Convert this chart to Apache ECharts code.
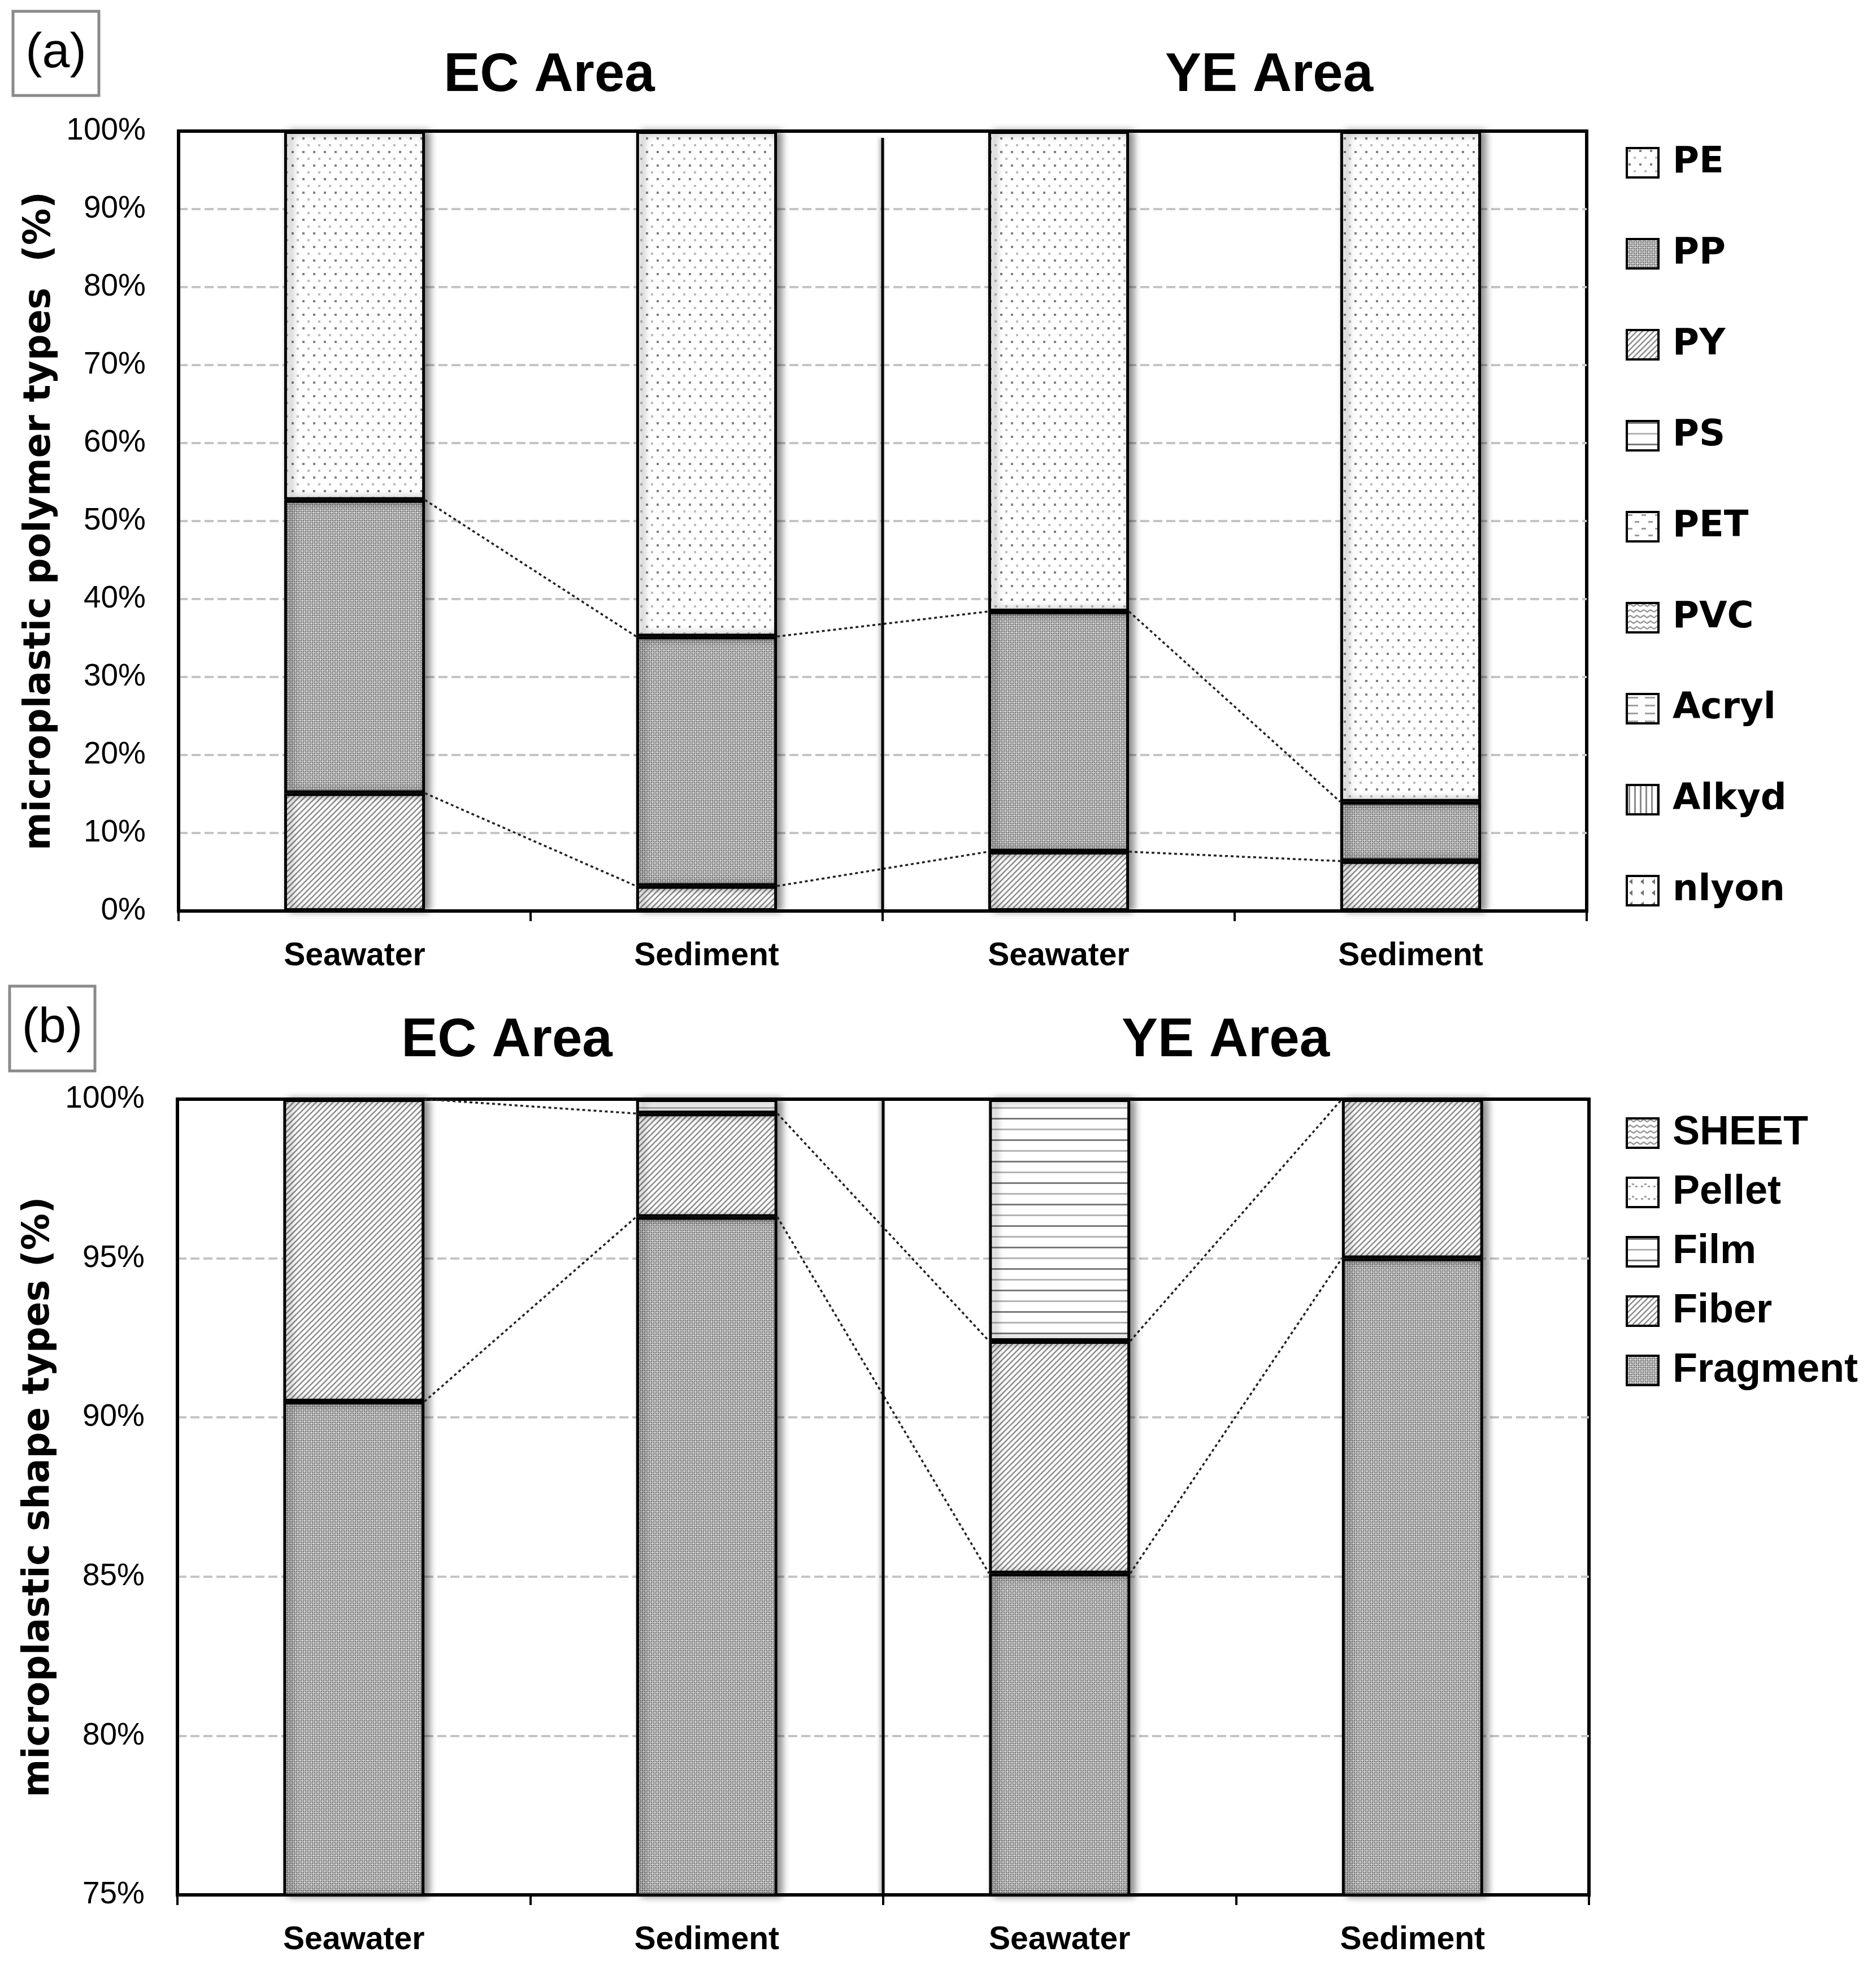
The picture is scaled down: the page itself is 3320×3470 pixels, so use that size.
<!DOCTYPE html>
<html>
<head>
<meta charset="utf-8">
<script src="https://cdn.jsdelivr.net/npm/echarts@6/dist/echarts.min.js"></script>
<style>
html,body{margin:0;padding:0;background:#fff;}
#chart{width:3320px;height:3470px;}
</style>
</head>
<body>
<div id="chart"></div>
<script>
// ---------- DATA ----------
const categories = ['Seawater', 'Sediment', 'Seawater', 'Sediment']; // EC Seawater, EC Sediment, YE Seawater, YE Sediment
const areaTitles = ['EC Area', 'YE Area'];

// (a) polymer types, stacked bottom -> top
const polymerOrder = ['nlyon', 'Alkyd', 'Acryl', 'PVC', 'PET', 'PS', 'PY', 'PP', 'PE'];
const polymerLegend = ['PE', 'PP', 'PY', 'PS', 'PET', 'PVC', 'Acryl', 'Alkyd', 'nlyon'];
const nlyon = [0, 0, 0, 0];
const Alkyd = [0, 0, 0, 0];
const Acryl = [0, 0, 0, 0];
const PVC = [0, 0, 0, 0];
const PET = [0, 0, 0, 0];
const PS = [0, 0, 0, 0];
const PY = [15.1, 3.2, 7.6, 6.4];
const PP = [37.6, 32.0, 30.8, 7.6];
const PE = [47.3, 64.8, 61.6, 86.0];
const polymerTicks = {min: 0, max: 100, interval: 10};

// (b) shape types, stacked bottom -> top
const shapeOrder = ['Fragment', 'Fiber', 'Film', 'Pellet', 'SHEET'];
const shapeLegend = ['SHEET', 'Pellet', 'Film', 'Fiber', 'Fragment'];
const Fragment = [90.5, 96.3, 85.1, 95.0];
const Fiber = [9.5, 3.25, 7.3, 5.0];
const Film = [0, 0.45, 7.6, 0];
const Pellet = [0, 0, 0, 0];
const SHEET = [0, 0, 0, 0];
const shapeTicks = {min: 75, max: 100, interval: 5};

const polymerValues = {nlyon, Alkyd, Acryl, PVC, PET, PS, PY, PP, PE};
const shapeValues = {Fragment, Fiber, Film, Pellet, SHEET};

// ---------- PATTERNS ----------
function mk(w, h, draw) {
  const c = document.createElement('canvas');
  c.width = w; c.height = h;
  const g = c.getContext('2d');
  g.fillStyle = '#fff'; g.fillRect(0, 0, w, h);
  draw(g);
  return {image: c, repeat: 'repeat'};
}
const patDots = mk(19, 24, g => {
  g.fillStyle = '#808080'; g.fillRect(3, 3, 4, 4);
  g.fillStyle = '#bcbcbc'; g.fillRect(12, 15, 4, 4);
});
const patCross = mk(8, 8, g => {
  g.fillStyle = '#b6b6b6'; g.fillRect(0, 0, 8, 8);
  g.fillStyle = '#747474'; g.fillRect(0, 0, 2, 2); g.fillRect(4, 4, 2, 2); g.fillRect(4, 0, 2, 2); g.fillRect(0, 4, 2, 2);
  g.fillStyle = '#e2e2e2'; g.fillRect(2, 2, 2, 2); g.fillRect(6, 6, 2, 2);
});
const patDiag = mk(10, 10, g => {
  g.strokeStyle = '#8e8e8e'; g.lineWidth = 2.6;
  g.beginPath();
  g.moveTo(-2, 12); g.lineTo(12, -2);
  g.moveTo(-2, 2); g.lineTo(2, -2);
  g.moveTo(8, 12); g.lineTo(12, 8);
  g.stroke();
});
const patHoriz = mk(6, 38, g => {
  g.fillStyle = '#7a7a7a'; g.fillRect(0, 2, 6, 3);
  g.fillStyle = '#b4b4b4'; g.fillRect(0, 21, 6, 3);
});
const patDash = mk(24, 24, g => {
  g.fillStyle = '#9a9a9a'; g.fillRect(2, 4, 8, 3); g.fillRect(14, 16, 8, 3);
});
const patWave = mk(24, 20, g => {
  g.strokeStyle = '#9a9a9a'; g.lineWidth = 2.5;
  g.beginPath(); g.moveTo(0, 6); g.lineTo(6, 2); g.lineTo(12, 6); g.lineTo(18, 2); g.lineTo(24, 6); g.stroke();
  g.beginPath(); g.moveTo(0, 16); g.lineTo(6, 12); g.lineTo(12, 16); g.lineTo(18, 12); g.lineTo(24, 16); g.stroke();
});
const patHDash = mk(30, 14, g => {
  g.fillStyle = '#a0a0a0'; g.fillRect(2, 5, 18, 3);
});
const patVert = mk(10, 10, g => {
  g.fillStyle = '#8a8a8a'; g.fillRect(3, 0, 3, 10);
});
const patDiv = mk(20, 20, g => {
  g.fillStyle = '#707070';
  g.beginPath(); g.moveTo(4, 10); g.lineTo(10, 5); g.lineTo(10, 15); g.closePath(); g.fill();
});
const patPellet = mk(22, 22, g => {
  g.fillStyle = '#a0a0a0'; g.fillRect(3, 14, 4, 3); g.fillRect(9, 10, 4, 3); g.fillRect(15, 14, 4, 3);
});

const polymerPatterns = {PE: patDots, PP: patCross, PY: patDiag, PS: patHoriz, PET: patDash, PVC: patWave, Acryl: patHDash, Alkyd: patVert, nlyon: patDiv};
const shapePatterns = {SHEET: patWave, Pellet: patPellet, Film: patHoriz, Fiber: patDiag, Fragment: patCross};

// ---------- BUILD ----------
function barSeries(name, vals, gi, pat) {
  return {
    name: name, type: 'bar', stack: 'stack' + gi,
    xAxisIndex: gi, yAxisIndex: gi, barWidth: '40%', clip: true,
    data: vals.map(v => v === 0 ? '-' : v),
    itemStyle: {color: pat, borderColor: '#000', borderWidth: 5,
      shadowColor: 'rgba(0,0,0,0.45)', shadowBlur: 14, shadowOffsetX: 8, shadowOffsetY: 0},
    emphasis: {disabled: true}, silent: true, z: 2
  };
}
function linkSeries(order, values, gi, ticks) {
  const data = [];
  const cum = [0, 0, 0, 0];
  const onEdge = v => Math.abs(v - ticks.max) < 1e-6 || v <= ticks.min + 1e-6;
  order.forEach(n => {
    const v = values[n];
    for (let k = 0; k < 4; k++) cum[k] += v[k];
    if (v.some(x => x !== 0)) {
      for (let k = 0; k < 3; k++) {
        const a = +cum[k].toFixed(3), b = +cum[k + 1].toFixed(3);
        if (onEdge(a) && onEdge(b)) continue;
        data.push([k, a, b]);
      }
    }
  });
  return {
    type: 'custom', xAxisIndex: gi, yAxisIndex: gi, silent: true, z: 4,
    dimensions: ['x', 'a', 'b'], encode: {x: 0, y: [1, 2]},
    data: data,
    renderItem: function (params, api) {
      const i = api.value(0);
      const p1 = api.coord([i, api.value(1)]);
      const p2 = api.coord([i + 1, api.value(2)]);
      const half = api.size([1, 0])[0] * 0.2;
      return {type: 'line', shape: {x1: p1[0] + half, y1: p1[1], x2: p2[0] - half, y2: p2[1]},
        style: {stroke: '#222', lineWidth: 3.5, lineDash: [5, 5]}};
    }
  };
}
function sepSeries(gi, ticks, offset) {
  return {
    type: 'custom', xAxisIndex: gi, yAxisIndex: gi, silent: true, z: 5,
    data: [[1, ticks.min, ticks.max]],
    renderItem: function (params, api) {
      const w = api.size([1, 0])[0];
      const pt = api.coord([1, ticks.max]);
      const pb = api.coord([1, ticks.min]);
      const x = pt[0] + w / 2;
      return {type: 'line', shape: {x1: x, y1: pt[1] + offset, x2: x, y2: pb[1]},
        style: {stroke: '#000', lineWidth: 5, shadowColor: 'rgba(0,0,0,0.35)', shadowBlur: 6, shadowOffsetX: -3}};
    }
  };
}

const series = [];
polymerOrder.forEach(n => series.push(barSeries(n, polymerValues[n], 0, polymerPatterns[n])));
series.push(linkSeries(polymerOrder, polymerValues, 0, polymerTicks));
series.push(sepSeries(0, polymerTicks, 12));
shapeOrder.forEach(n => series.push(barSeries(n, shapeValues[n], 1, shapePatterns[n])));
series.push(linkSeries(shapeOrder, shapeValues, 1, shapeTicks));
series.push(sepSeries(1, shapeTicks, 0));

function xAxis(gi) {
  return {
    type: 'category', gridIndex: gi, data: categories, boundaryGap: true,
    axisLine: {show: true, lineStyle: {color: '#000', width: 6}},
    axisTick: {show: true, alignWithLabel: false, length: 18, lineStyle: {color: '#000', width: 4}},
    axisLabel: {margin: 52, color: '#000', fontFamily: 'Liberation Sans', fontWeight: 'bold', fontSize: 57},
    splitLine: {show: false}
  };
}
function yAxis(gi, ticks, name) {
  return {
    type: 'value', gridIndex: gi, min: ticks.min, max: ticks.max, interval: ticks.interval,
    name: name, nameLocation: 'middle', nameRotate: 90, nameGap: 212,
    nameTextStyle: {fontFamily: 'DejaVu Sans', fontWeight: 'bold', fontSize: 65, color: '#000'},
    axisLine: {show: true, lineStyle: {color: '#000', width: 5}},
    axisTick: {show: false},
    axisLabel: {margin: 58, color: '#000', fontFamily: 'Liberation Sans', fontSize: 55, formatter: '{value}%'},
    splitLine: {show: true, showMinLine: false, showMaxLine: false, lineStyle: {color: '#c4c4c4', width: 4, type: [16, 7]}}
  };
}

function panelLabel(txt, x, y, w, h) {
  return {
    type: 'group', children: [
      {type: 'rect', shape: {x: x, y: y, width: w, height: h}, style: {fill: '#fff', stroke: '#8a8a8a', lineWidth: 5}},
      {type: 'text', x: x + w / 2, y: y + h / 2, style: {text: txt, fill: '#000', align: 'center', verticalAlign: 'middle',
        font: '88px "Liberation Sans Narrow", "Liberation Sans", sans-serif'}}
    ]
  };
}
function areaTitle(txt, x, y) {
  return {type: 'text', x: x, y: y, style: {text: txt, fill: '#000', align: 'center', verticalAlign: 'middle',
    font: 'bold 96px "Liberation Sans", sans-serif'}};
}

const option = {
  animation: false,
  backgroundColor: '#fff',
  grid: [
    {left: 316, right: 512, top: 232, bottom: 1858, show: true, borderColor: '#000', borderWidth: 6, containLabel: false},
    {left: 314, right: 508, top: 1945, bottom: 117, show: true, borderColor: '#000', borderWidth: 6, containLabel: false}
  ],
  xAxis: [xAxis(0), xAxis(1)],
  yAxis: [yAxis(0, polymerTicks, 'microplastic polymer types  (%)'), yAxis(1, shapeTicks, 'microplastic shape types (%)')],
  legend: [
    {data: polymerLegend, orient: 'vertical', left: 2872, top: 251, itemWidth: 56, itemHeight: 52, itemGap: 97,
      selectedMode: false, icon: 'rect',
      itemStyle: {borderColor: '#000', borderWidth: 4},
      textStyle: {fontFamily: 'DejaVu Sans', fontWeight: 'bold', fontSize: 64, color: '#000', lineHeight: 52, padding: [0, 0, 0, 20]}},
    {data: shapeLegend, orient: 'vertical', left: 2872, top: 1964, itemWidth: 56, itemHeight: 52, itemGap: 33,
      selectedMode: false, icon: 'rect',
      itemStyle: {borderColor: '#000', borderWidth: 4},
      textStyle: {fontFamily: 'Liberation Sans', fontWeight: 'bold', fontSize: 72, color: '#000', lineHeight: 52, padding: [0, 0, 0, 20]}}
  ],
  graphic: [
    panelLabel('(a)', 23, 20, 152, 149),
    panelLabel('(b)', 17, 1745, 151, 150),
    areaTitle(areaTitles[0], 972, 135),
    areaTitle(areaTitles[1], 2246, 135),
    areaTitle(areaTitles[0], 897, 1843),
    areaTitle(areaTitles[1], 2169, 1843)
  ],
  series: series
};

const chart = echarts.init(document.getElementById('chart'), null, {renderer: 'canvas', width: 3320, height: 3470});
chart.setOption(option);
</script>
</body>
</html>
